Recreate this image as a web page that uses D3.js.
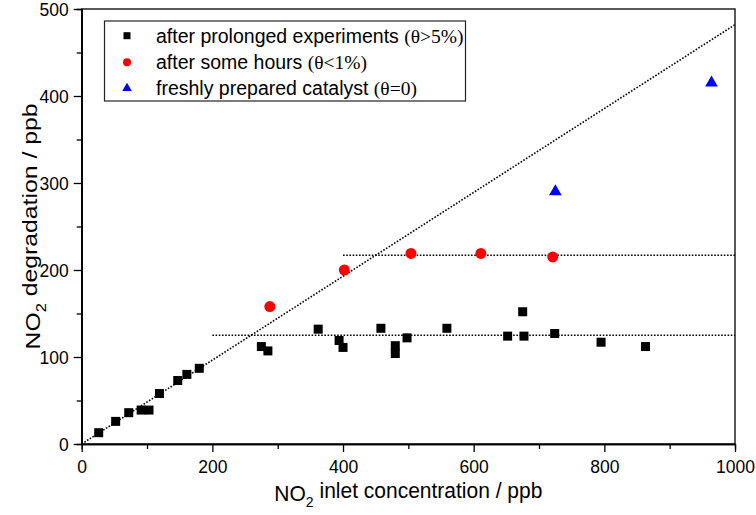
<!DOCTYPE html>
<html><head><meta charset="utf-8">
<script src="https://cdn.jsdelivr.net/npm/d3@7"></script>
<style>body{margin:0;background:#fff}svg{display:block}</style>
</head><body>
<script>
// data
const prolonged = [
  [26,13],[52,26],[72,36],[91,39],[103,39],[119,58],[147,73],[161,80],[180,87],
  [275,112],[285,107],[362,132],[394,119],[400,111],[458,133],[480,113],[480,104],
  [498,122],[559,133],[652,124],[675,152],[677,124],[724,127],[795,117],[863,112]
];
const someHours = [[288,158],[402,200],[504,219],[611,219],[721,215]];
const fresh = [[725,290],[964,415]];
const diagonal = [[0,0],[1000,482]];
const plateau1 = [[200,125],[1000,125]];
const plateau2 = [[400,217],[1000,217]];
const xTicks = [0,200,400,600,800,1000];
const yTicks = [0,100,200,300,400,500];
const legendLabels = [
  ["after prolonged experiments ", "(\u03b8>5%)"],
  ["after some hours ", "(\u03b8<1%)"],
  ["freshly prepared catalyst ", "(\u03b8=0)"]
];

const W = 756, H = 515;
const m = {l:81.7, r:756-735, t:9, b:515-444};
const svg = d3.select("body").append("svg").attr("width",W).attr("height",H);
const x = d3.scaleLinear().domain([0,1000]).range([m.l, W-m.r]);
const y = d3.scaleLinear().domain([0,500]).range([H-m.b, m.t]);
const font = "Liberation Sans, Arial, sans-serif";

// dotted lines
const line = d3.line().x(d=>x(d[0])).y(d=>y(d[1]));
[diagonal, plateau1, plateau2].forEach(d=>{
  svg.append("path").attr("d", line(d)).attr("fill","none")
    .attr("stroke","#000").attr("stroke-width",1.6).attr("stroke-dasharray","1.6,1.6");
});

// frame
svg.append("rect").attr("x",x(0)).attr("y",y(500)).attr("width",x(1000)-x(0)).attr("height",y(0)-y(500))
  .attr("fill","none").attr("stroke","#000").attr("stroke-width",1.3);

// axes
const xAxis = d3.axisBottom(x).tickValues(xTicks).tickSize(8).tickSizeOuter(0).tickFormat(d3.format("d"));
const gx = svg.append("g").attr("transform",`translate(0,${y(0)})`).call(xAxis);
const xMinor = svg.append("g").attr("transform",`translate(0,${y(0)})`)
  .call(d3.axisBottom(x).tickValues(d3.range(100,1000,200)).tickSize(5).tickFormat(""));
const yAxis = d3.axisLeft(y).tickValues(yTicks).tickSize(8).tickSizeOuter(0);
const gy = svg.append("g").attr("transform",`translate(${x(0)},0)`).call(yAxis);
const yMinor = svg.append("g").attr("transform",`translate(${x(0)},0)`)
  .call(d3.axisLeft(y).tickValues(d3.range(50,500,100)).tickSize(5).tickFormat(""));
[gx,gy,xMinor,yMinor].forEach(g=>{
  g.select(".domain").attr("stroke","#000").attr("stroke-width",1.3);
  g.selectAll(".tick line").attr("stroke","#000").attr("stroke-width",1.3);
  g.selectAll("text").attr("font-family",font).attr("font-size",17.5).attr("fill","#000");
});
gx.selectAll("text").attr("dy","1.0em");
gy.selectAll("text").attr("x",-13).attr("dy","0.35em");

// axis titles
const xt = svg.append("text").attr("transform",`translate(${(x(0)+x(1000))/2},501) scale(1,1.08)`)
  .attr("text-anchor","middle").attr("font-family",font).attr("font-size",21).attr("fill","#000");
xt.append("tspan").text("NO");
xt.append("tspan").attr("font-size",14).attr("dy","0.4em").text("2");
xt.append("tspan").attr("dy","-0.4em").text(" inlet concentration / ppb");

const yt = svg.append("text").attr("transform",`translate(40,${(y(0)+y(500))/2}) rotate(-90) scale(1.18,1)`)
  .attr("text-anchor","middle").attr("font-family",font).attr("font-size",21).attr("fill","#000");
yt.append("tspan").text("NO");
yt.append("tspan").attr("font-size",14).attr("dy","0.4em").text("2");
yt.append("tspan").attr("dy","-0.4em").text(" degradation / ppb");

// markers
const sq = 9;
svg.append("g").selectAll("rect").data(prolonged).join("rect")
  .attr("x",d=>x(d[0])-sq/2).attr("y",d=>y(d[1])-sq/2).attr("width",sq).attr("height",sq).attr("fill","#000");
svg.append("g").selectAll("circle").data(someHours).join("circle")
  .attr("cx",d=>x(d[0])).attr("cy",d=>y(d[1])).attr("r",5.5).attr("fill","#ff0000");
const tri = d3.symbol().type(d3.symbolTriangle).size(70);
svg.append("g").selectAll("path").data(fresh).join("path")
  .attr("transform",d=>`translate(${x(d[0])},${y(d[1])})`).attr("d",tri).attr("fill","#0000ff");

// legend
const lg = svg.append("g");
lg.append("rect").attr("x",104.5).attr("y",21).attr("width",361).attr("height",80)
  .attr("fill","#fff").attr("stroke","#222").attr("stroke-width",1.2);
const rows = [35.7, 62.3, 88.3];
const mx = 127;
lg.append("rect").attr("x",mx-3.5).attr("y",rows[0]-3.5).attr("width",7).attr("height",7).attr("fill","#000");
lg.append("circle").attr("cx",mx).attr("cy",rows[1]).attr("r",4).attr("fill","#ff0000");
lg.append("path").attr("transform",`translate(${mx},${rows[2]})`).attr("d",d3.symbol().type(d3.symbolTriangle).size(40)).attr("fill","#0000ff");
legendLabels.forEach((lab,i)=>{
  const t = lg.append("text").attr("x",156).attr("y",rows[i]).attr("dy","0.36em")
    .attr("font-family",font).attr("font-size",19.5).attr("fill","#000");
  t.append("tspan").text(lab[0]);
  t.append("tspan").attr("font-family","Liberation Serif, Times New Roman, serif").text(lab[1]);
});
</script>
</body></html>
